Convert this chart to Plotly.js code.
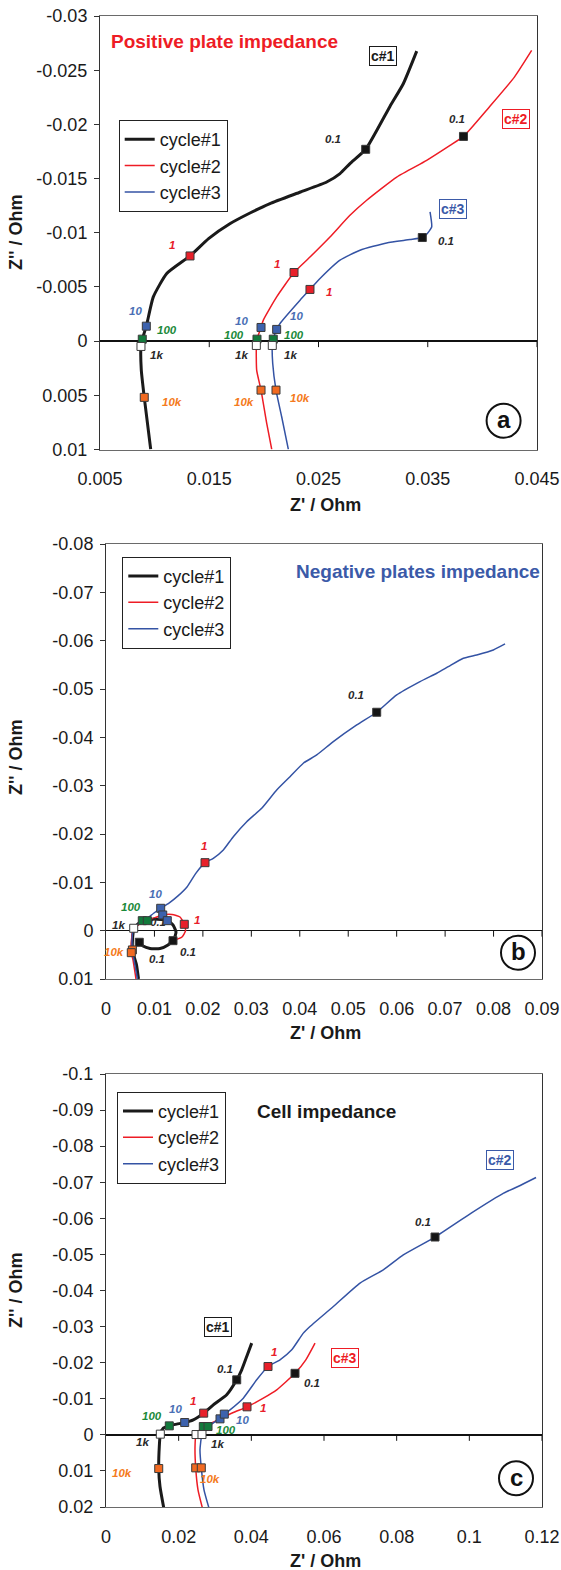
<!DOCTYPE html>
<html><head><meta charset="utf-8">
<script src="https://cdn.plot.ly/plotly-3.0.1.min.js"></script>
<style>html,body{margin:0;padding:0;background:#fff}#chart{width:561px;height:1570px}</style>
</head><body><div id="chart"></div>
<script>
// ---------------- DATA ----------------
const seriesNames = ['cycle#1', 'cycle#2', 'cycle#3'];
const freqNames = ['0.1', '1', '10', '100', '1k', '10k'];

// Panel (a) positive plate
const aC1x = [0.03399,0.03276,0.03154,0.02932,0.02788,0.02697,0.02575,0.02336,0.02056,0.01873,0.01692,0.01494,0.01324,0.01111,0.00988,0.00924,0.00887,0.00875,0.00878,0.00905,0.00964];
const aC1y = [-0.02676,-0.02375,-0.02166,-0.01770,-0.01638,-0.01546,-0.01468,-0.01376,-0.01269,-0.01182,-0.01085,-0.00946,-0.00786,-0.00624,-0.00408,-0.00138,-0.00018,0.00049,0.00267,0.00519,0.00998];
const aC2x = [0.04451,0.04293,0.04062,0.03827,0.03704,0.03490,0.03216,0.02941,0.02788,0.02605,0.02422,0.02276,0.02117,0.01995,0.01974,0.01937,0.01931,0.01934,0.01974,0.02026,0.02072];
const aC2y = [-0.02682,-0.02436,-0.02159,-0.01889,-0.01806,-0.01668,-0.01514,-0.01300,-0.01161,-0.00961,-0.00776,-0.00633,-0.00408,-0.00194,-0.00126,-0.00018,0.00040,0.00267,0.00452,0.00759,0.00998];
const aC3x = [0.03521,0.03536,0.03490,0.03450,0.03338,0.03124,0.02880,0.02697,0.02514,0.02422,0.02331,0.02148,0.02117,0.02086,0.02077,0.02081,0.02111,0.02163,0.02224];
const aC3y = [-0.01192,-0.01053,-0.00986,-0.00956,-0.00937,-0.00906,-0.00839,-0.00747,-0.00578,-0.00477,-0.00378,-0.00163,-0.00108,-0.00018,0.00040,0.00206,0.00452,0.00698,0.00998];
const aMkF = ['0.1','0.1','0.1','1','1','1','10','10','10','100','100','100','1k','1k','1k','10k','10k','10k'];
const aMkX = [0.02932,0.03827,0.03450,0.01324,0.02276,0.02422,0.00924,0.01974,0.02117,0.00887,0.01937,0.02086,0.00875,0.01931,0.02077,0.00905,0.01974,0.02111];
const aMkY = [-0.01770,-0.01889,-0.00956,-0.00786,-0.00633,-0.00477,-0.00138,-0.00126,-0.00108,-0.00018,-0.00018,-0.00018,0.00049,0.00040,0.00040,0.00519,0.00452,0.00452];
const aXticks = [0.005,0.015,0.025,0.035,0.045];
const aXtickText = ['0.005','0.015','0.025','0.035','0.045'];
const aYticks = [-0.03,-0.025,-0.02,-0.015,-0.01,-0.005,0,0.005,0.01];
const aYtickText = ['-0.03','-0.025','-0.02','-0.015','-0.01','-0.005','0','0.005','0.01'];

// Panel (b) negative plates
const bC1x = [0.00671,0.00630,0.00547,0.00547,0.00578,0.00749,0.01012,0.01265,0.01383,0.01445,0.01404,0.01280,0.01115,0.00908,0.00764,0.00687];
const bC1y = [0.0100,0.00710,0.00420,0.00192,-0.00050,-0.00207,-0.00242,-0.00207,-0.00118,0.00027,0.00172,0.00296,0.00368,0.00368,0.00317,0.00240];
const bC2x = [0.00619,0.00557,0.00522,0.00526,0.00572,0.00702,0.00853,0.01171,0.01363,0.01528,0.01616,0.01641,0.01569,0.01383];
const bC2y = [0.0100,0.00606,0.00455,0.00192,-0.00050,-0.00139,-0.00207,-0.00325,-0.00335,-0.00283,-0.00132,0.00006,0.00130,0.00207];
const bC3x = [0.00650,0.00578,0.00545,0.00537,0.00572,0.00702,0.00826,0.00991,0.01129,0.01300,0.01486,0.01672,0.01850,0.02044,0.02215,0.02422,0.02628,0.02905,0.03214,0.03524,0.03798,0.04073,0.04350,0.04692,0.05176,0.05588,0.06001,0.06482,0.06827,0.07067,0.07376,0.07653,0.07996,0.08237];
const bC3y = [0.0100,0.00606,0.00399,0.00192,-0.00050,-0.00159,-0.00232,-0.00366,-0.00463,-0.00570,-0.00720,-0.00905,-0.01180,-0.01407,-0.01498,-0.01670,-0.01945,-0.02255,-0.02533,-0.02911,-0.03186,-0.03464,-0.03635,-0.03911,-0.04256,-0.04519,-0.04877,-0.05152,-0.05326,-0.05462,-0.05636,-0.05705,-0.05808,-0.05932];
const bMkF = ['0.1','0.1','0.1','1','1','10','10','10','100','100','1k','10k','10k'];
const bMkX = [0.05588,0.01383,0.00687,0.02044,0.01616,0.01129,0.01171,0.01265,0.00749,0.00853,0.00572,0.00545,0.00522];
const bMkY = [-0.04519,0.00207,0.00240,-0.01407,-0.00132,-0.00463,-0.00325,-0.00207,-0.00207,-0.00207,-0.00050,0.00399,0.00455];
const bXticks = [0,0.01,0.02,0.03,0.04,0.05,0.06,0.07,0.08,0.09];
const bXtickText = ['0','0.01','0.02','0.03','0.04','0.05','0.06','0.07','0.08','0.09'];
const bYticks = [-0.08,-0.07,-0.06,-0.05,-0.04,-0.03,-0.02,-0.01,0,0.01];
const bYtickText = ['-0.08','-0.07','-0.06','-0.05','-0.04','-0.03','-0.02','-0.01','0','0.01'];

// Panel (c) cell
const cC1x = [0.01596,0.01486,0.01451,0.01467,0.01495,0.01577,0.01742,0.01946,0.02166,0.02403,0.02689,0.02954,0.03322,0.03598,0.03735,0.03873,0.04010];
const cC1y = [0.0206,0.01433,0.00934,0.00324,-0.00019,-0.00186,-0.00249,-0.00297,-0.00341,-0.00416,-0.00601,-0.00831,-0.01109,-0.01524,-0.01802,-0.02170,-0.02542];
const cC2x = [0.02662,0.02532,0.02469,0.02450,0.02477,0.02678,0.02863,0.03138,0.03504,0.03881,0.04330,0.04699,0.05202,0.05500,0.05753];
const cC2y = [0.0206,0.01524,0.00915,0.00324,-0.00008,-0.00230,-0.00305,-0.00443,-0.00618,-0.00776,-0.01017,-0.01247,-0.01705,-0.02079,-0.02542];
const cC3x = [0.02843,0.02697,0.02623,0.02587,0.02642,0.02808,0.03000,0.03256,0.03413,0.03779,0.04148,0.04459,0.04789,0.05112,0.05431,0.05615,0.06257,0.06991,0.07633,0.08183,0.09056,0.10052,0.10944,0.11340,0.11836];
const cC3y = [0.0206,0.01524,0.00915,0.00416,-0.00008,-0.00230,-0.00360,-0.00574,-0.00693,-0.01017,-0.01524,-0.01893,-0.02079,-0.02356,-0.02819,-0.03002,-0.03556,-0.04205,-0.04573,-0.04989,-0.05482,-0.06145,-0.06699,-0.06882,-0.07131];
const cMkF = ['0.1','0.1','0.1','1','1','1','10','10','10','100','100','100','1k','1k','1k','10k','10k','10k'];
const cMkX = [0.03598,0.05202,0.09056,0.02689,0.03881,0.04459,0.02166,0.03138,0.03256,0.01742,0.02678,0.02808,0.01495,0.02477,0.02642,0.01451,0.02469,0.02623];
const cMkY = [-0.01524,-0.01705,-0.05482,-0.00601,-0.00776,-0.01893,-0.00341,-0.00443,-0.00574,-0.00249,-0.00230,-0.00230,-0.00019,-0.00008,-0.00008,0.00934,0.00915,0.00915];
const cXticks = [0,0.02,0.04,0.06,0.08,0.1,0.12];
const cXtickText = ['0','0.02','0.04','0.06','0.08','0.1','0.12'];
const cYticks = [-0.1,-0.09,-0.08,-0.07,-0.06,-0.05,-0.04,-0.03,-0.02,-0.01,0,0.01,0.02];
const cYtickText = ['-0.1','-0.09','-0.08','-0.07','-0.06','-0.05','-0.04','-0.03','-0.02','-0.01','0','0.01','0.02'];

// ---------------- STYLE ----------------
const W = 561, H = 1570;
const FONT = 'Liberation Sans, Arial, sans-serif';
const TICK = 18;
const lineColors = ['#1a1a1a', '#ee1c25', '#3453a4'];
const lineWidths = [3, 1.5, 1.5];
const mkColor = {'0.1':'#151515','1':'#e8202a','10':'#3d62ad','100':'#127a3c','1k':'#ffffff','10k':'#f26a21'};
const lbColor = {'0.1':'#2a2a2a','1':'#e8202a','10':'#4a6fb5','100':'#1b8a3a','1k':'#2a2a2a','10k':'#f47a20'};
const px = v => v / W, py = v => 1 - v / H;

const panels = [
  {xs:[aC1x,aC2x,aC3x], ys:[aC1y,aC2y,aC3y], mk:[aMkX,aMkY,aMkF], xt:[aXticks,aXtickText], yt:[aYticks,aYtickText],
   xr:[0.005,0.045], yr:[0.01,-0.03], dx:[100,537], dy:[16,449.5], leg:[118.7,120], xt_y:505, yt_y:232},
  {xs:[bC1x,bC2x,bC3x], ys:[bC1y,bC2y,bC3y], mk:[bMkX,bMkY,bMkF], xt:[bXticks,bXtickText], yt:[bYticks,bYtickText],
   xr:[0,0.09], yr:[0.01,-0.08], dx:[106,542], dy:[544,979], leg:[122.3,556.7], xt_y:1033, yt_y:757},
  {xs:[cC1x,cC2x,cC3x], ys:[cC1y,cC2y,cC3y], mk:[cMkX,cMkY,cMkF], xt:[cXticks,cXtickText], yt:[cYticks,cYtickText],
   xr:[0,0.12], yr:[0.02,-0.1], dx:[106,542], dy:[1074,1507], leg:[117,1091.7], xt_y:1561, yt_y:1290}
];

// frequency labels [text, x, y] in data units, per panel
const freqLabels = [
  [['0.1',0.02630,-0.01868],['0.1',0.03770,-0.02046],['0.1',0.03667,-0.00924],
   ['1',0.01159,-0.00885],['1',0.02117,-0.00716],['1',0.02596,-0.00454],
   ['10',0.00827,-0.00276],['10',0.01797,-0.00187],['10',0.02301,-0.00230],
   ['100',0.01111,-0.00101],['100',0.01729,-0.00055],['100',0.02276,-0.00053],
   ['1k',0.01019,0.00129],['1k',0.01791,0.00129],['1k',0.02246,0.00129],
   ['10k',0.01159,0.00565],['10k',0.01821,0.00565],['10k',0.02334,0.00528]],
  [['0.1',0.05155,-0.04877],['1',0.02023,-0.01753],['1',0.01879,-0.00221],
   ['10',0.01028,-0.00753],['100',0.00522,-0.00497],['1k',0.00248,-0.00118],
   ['10k',0.00175,0.00441],['0.1',0.01693,0.00447],['0.1',0.01053,0.00590]],
  [['0.1',0.08717,-0.05912],['0.1',0.03276,-0.01821],['0.1',0.05678,-0.01433],
   ['1',0.02403,-0.00951],['1',0.04624,-0.02309],['1',0.04330,-0.00740],
   ['10',0.01919,-0.00721],['10',0.03763,-0.00416],
   ['100',0.01258,-0.00527],['100',0.03303,-0.00139],
   ['1k',0.01010,0.00186],['1k',0.03075,0.00249],
   ['10k',0.00432,0.01062],['10k',0.02863,0.01220]]
];

const traces = [];
const layout = {
  width: W, height: H, margin: {l:0, r:0, t:0, b:0},
  paper_bgcolor: '#fff', plot_bgcolor: '#fff',
  font: {family: FONT, color: '#1a1a1a'},
  annotations: [], shapes: []
};

panels.forEach((p, i) => {
  const sx = i === 0 ? '' : String(i + 1);
  const xa = 'x' + sx, ya = 'y' + sx;
  const legName = i === 0 ? 'legend' : 'legend' + (i + 1);
  for (let k = 0; k < 3; k++) {
    traces.push({type:'scatter', mode:'lines', x:p.xs[k], y:p.ys[k], xaxis:xa, yaxis:ya,
      name: seriesNames[k], legend: legName,
      line:{color:lineColors[k], width:lineWidths[k], shape:'spline', smoothing:0.5}, hoverinfo:'skip'});
  }
  if (i === 1) {
    // partially hidden label under the markers
    traces.push({type:'scatter', mode:'text', x:[0.01073], y:[-0.00159], text:['0.1'], xaxis:xa, yaxis:ya,
      showlegend:false, textfont:{family:FONT, size:11, color:lbColor['0.1'], weight:'bold', style:'italic'}, hoverinfo:'skip'});
  }
  traces.push({type:'scatter', mode:'markers', x:p.mk[0], y:p.mk[1], xaxis:xa, yaxis:ya, showlegend:false,
    marker:{symbol:'square', size:8, color:p.mk[2].map(f => mkColor[f]), line:{color:'#3a3a3a', width:1}}, hoverinfo:'skip'});

  layout['xaxis' + sx] = {
    domain:[px(p.dx[0]), px(p.dx[1])], anchor: ya, range: p.xr, autorange:false,
    tickmode:'array', tickvals:p.xt[0], ticktext:p.xt[1], ticks:'', ticklabelstandoff:13,
    tickfont:{family:FONT, size:TICK, color:'#1a1a1a'},
    showline:true, mirror:true, linecolor:'#6a6a6a', linewidth:1, showgrid:false, zeroline:false, fixedrange:true
  };
  layout['yaxis' + sx] = {
    domain:[py(p.dy[1]), py(p.dy[0])], anchor: xa, range: p.yr, autorange:false,
    tickmode:'array', tickvals:p.yt[0], ticktext:p.yt[1], ticks:'outside', ticklen:5, tickcolor:'#333',
    ticklabelstandoff:3, tickfont:{family:FONT, size:TICK, color:'#1a1a1a'},
    showline:true, mirror:true, linecolor:'#333', linewidth:1, showgrid:false,
    zeroline:true, zerolinecolor:'#111', zerolinewidth:1.5, fixedrange:true
  };
  layout[legName] = {
    x: px(p.leg[0]), y: py(p.leg[1]), xanchor:'left', yanchor:'top', xref:'paper', yref:'paper',
    bgcolor:'#fff', bordercolor:'#222', borderwidth:1, font:{family:FONT, size:18, color:'#1a1a1a'},
    itemwidth:30, tracegroupgap:0
  };
  // tick marks hanging from the zero line
  p.xt[0].slice(1).forEach(v => {
    layout.shapes.push({type:'line', xref:xa, yref:ya, x0:v, x1:v, ysizemode:'pixel', yanchor:0, y0:0, y1:-6,
      line:{color:'#111', width:1}, layer:'above'});
  });
  freqLabels[i].forEach(l => {
    layout.annotations.push({xref:xa, yref:ya, x:l[1], y:l[2], text:'<b><i>' + l[0] + '</i></b>', showarrow:false,
      xanchor:'center', yanchor:'middle', font:{family:FONT, size:11.5, color:lbColor[l[0]]}});
  });
  // axis titles
  layout.annotations.push({xref:'paper', yref:'paper', x:px(325), y:py(p.xt_y), text:"<b>Z' / Ohm</b>", showarrow:false,
    xanchor:'center', yanchor:'middle', font:{family:FONT, size:18, color:'#1a1a1a'}});
  layout.annotations.push({xref:'paper', yref:'paper', x:px(16), y:py(p.yt_y), text:"<b>Z'' / Ohm</b>", textangle:-90, showarrow:false,
    xanchor:'center', yanchor:'middle', font:{family:FONT, size:18, color:'#1a1a1a'}});
});

// panel titles and tags
const txt = (x, y, t, color, size, anchor, extra) => Object.assign({xref:'paper', yref:'paper', x:px(x), y:py(y), text:t,
  showarrow:false, xanchor:anchor || 'center', yanchor:'middle', font:{family:FONT, size:size, color:color}}, extra || {});
layout.annotations.push(txt(109, 42, '<b>Positive plate impedance</b>', '#ee1c25', 19, 'left'));
layout.annotations.push(txt(294, 572, '<b>Negative plates impedance</b>', '#3b5aa8', 19, 'left'));
layout.annotations.push(txt(255, 1111, '<b>Cell impedance</b>', '#1a1a1a', 19, 'left'));
const box = (x, y, t, color) => txt(x, y, '<b>' + t + '</b>', color, 14, 'center',
  {bordercolor:color, borderwidth:1, borderpad:1, bgcolor:'#fff'});
layout.annotations.push(box(383, 56, 'c#1', '#1a1a1a'));
layout.annotations.push(box(516, 119, 'c#2', '#ee1c25'));
layout.annotations.push(box(453, 209, 'c#3', '#3b5aa8'));
layout.annotations.push(box(500, 1160, 'c#2', '#3b5aa8'));
layout.annotations.push(box(218, 1327, 'c#1', '#1a1a1a'));
layout.annotations.push(box(345, 1358, 'c#3', '#ee1c25'));
[[503.6, 420.7, 'a'], [518, 952.7, 'b'], [516, 1478.3, 'c']].forEach(c => {
  layout.shapes.push({type:'circle', xref:'paper', yref:'paper', x0:px(c[0] - 17), x1:px(c[0] + 17), y0:py(c[1] + 17), y1:py(c[1] - 17),
    line:{color:'#111', width:2}, fillcolor:'rgba(0,0,0,0)', layer:'above'});
  layout.annotations.push(txt(c[0], c[1] - 1, '<b>' + c[2] + '</b>', '#111', 24));
});

Plotly.newPlot('chart', traces, layout, {staticPlot:true, displayModeBar:false});
</script></body></html>
